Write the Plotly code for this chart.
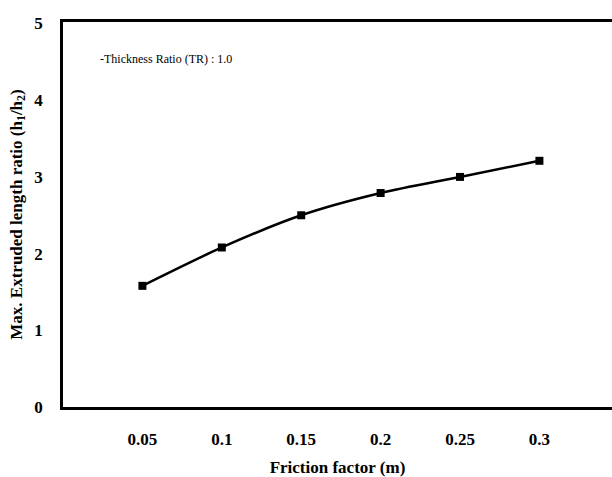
import plotly.graph_objects as go

friction = [0.05, 0.1, 0.15, 0.2, 0.25, 0.3]
ratio = [1.58, 2.08, 2.50, 2.79, 3.00, 3.21]
x_ticks = [0.05, 0.1, 0.15, 0.2, 0.25, 0.3]
x_tick_labels = ["0.05", "0.1", "0.15", "0.2", "0.25", "0.3"]
y_ticks = [0, 1, 2, 3, 4, 5]

fig = go.Figure()
fig.add_trace(go.Scatter(
    x=friction, y=ratio, mode="lines+markers",
    line=dict(color="black", width=2.5, shape="spline", smoothing=0.8),
    marker=dict(symbol="square", size=8, color="black"),
    showlegend=False,
))

font_family = "Liberation Serif"
fig.add_annotation(
    x=0.022, y=4.54, xref="x", yref="y", xanchor="left", yanchor="middle",
    text="-Thickness Ratio (TR) : 1.0", showarrow=False,
    font=dict(family=font_family, size=12, color="black"),
)

fig.update_layout(
    width=612, height=477,
    margin=dict(l=63, r=0, t=22, b=70),
    plot_bgcolor="white", paper_bgcolor="white",
    font=dict(family=font_family, color="black"),
    xaxis=dict(
        range=[0, 0.3457], tickvals=x_ticks, ticktext=x_tick_labels,
        showgrid=False, zeroline=False, showline=True, linecolor="black",
        linewidth=2.5, mirror=True, ticks="", ticklabelstandoff=15,
        tickfont=dict(size=17, family=font_family, color="black", weight="bold"),
        title=dict(text="<b>Friction factor (m)</b>", font=dict(size=17, family=font_family), standoff=13),
    ),
    yaxis=dict(
        range=[0, 5.02], tickvals=y_ticks,
        showgrid=False, zeroline=False, showline=True, linecolor="black",
        linewidth=2.5, ticks="", ticklabelstandoff=14,
        tickfont=dict(size=17, family=font_family, color="black", weight="bold"),
        title=dict(text="<b>Max. Extruded length ratio (h<sub>1</sub>/h<sub>2</sub>)</b>",
                   font=dict(size=17, family=font_family), standoff=8),
    ),
)

fig.write_html(
    "out.html",
    config={"displayModeBar": False},
    post_script="document.body.style.margin='0';document.body.style.overflow='hidden';",
)
